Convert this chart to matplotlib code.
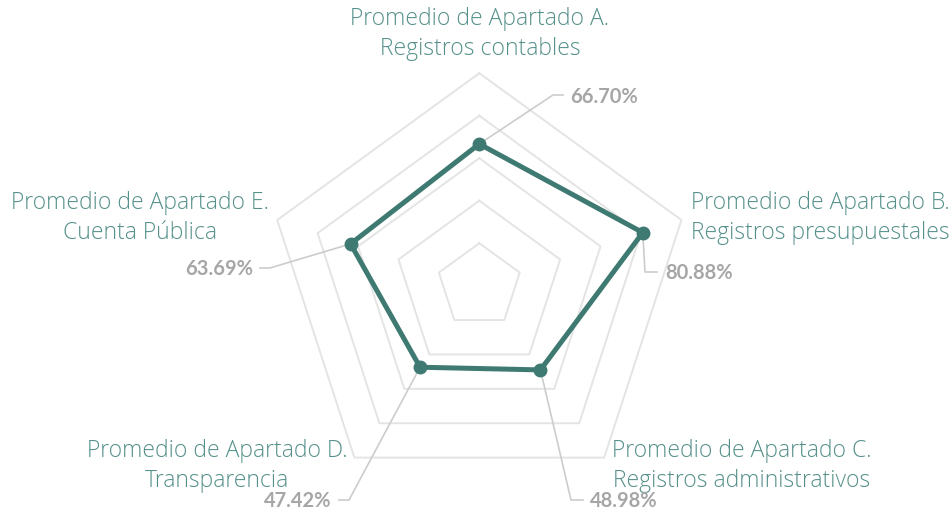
import matplotlib

matplotlib.use("Agg")
import matplotlib.pyplot as plt
import numpy as np

categories = [
    "Promedio de Apartado A.\nRegistros contables",
    "Promedio de Apartado B.\nRegistros presupuestales",
    "Promedio de Apartado C.\nRegistros administrativos",
    "Promedio de Apartado D.\nTransparencia",
    "Promedio de Apartado E.\nCuenta Pública",
]
values = [66.70, 80.88, 48.98, 47.42, 63.69]
rings = [20, 40, 60, 80, 100]

LINE = "#3f7a72"
LABEL = "#55908a"
VALUE = "#a6a6a6"
GRID = "#e4e4e4"
LEADER = "#cccccc"

W, H = 953, 514
CX, CY, SCALE = 479.3, 285.7, 2.125   # centre in pixels, px per percent

plt.rcParams["font.family"] = ["Open Sans", "DejaVu Sans"]

fig = plt.figure(figsize=(W / 100, H / 100), dpi=100)
ax = fig.add_axes([0, 0, 1, 1])
ax.set_xlim(-CX / SCALE, (W - CX) / SCALE)
ax.set_ylim(-(H - CY) / SCALE, CY / SCALE)
ax.set_aspect("equal")
ax.axis("off")


def px(x, y):
    """reference-pixel position (top-left origin) -> data coords"""
    return (x - CX) / SCALE, (CY - y) / SCALE


theta = np.pi / 2 - np.arange(len(values)) * 2 * np.pi / len(values)
ct = np.append(np.cos(theta), np.cos(theta[0]))
st = np.append(np.sin(theta), np.sin(theta[0]))

for r in rings:
    ax.plot(r * ct, r * st, color=GRID, lw=1.4, zorder=1)

v = np.append(values, values[0])
xs, ys = v * ct, v * st
ax.plot(xs, ys, color=LINE, lw=3.6, solid_joinstyle="round", zorder=3)
ax.plot(xs[:-1], ys[:-1], "o", color=LINE, ms=9, zorder=4)

# category labels (centre x, centre y in pixels)
label_pos = [(480, 34), (820, 218), (742, 466), (217, 466), (140, 218)]
for text, (lx, ly) in zip(categories, label_pos):
    ax.text(*px(lx, ly), text, ha="center", va="center", fontsize=16.5,
            color=LABEL, fontweight="light", linespacing=1.3)

# value labels with elbow leaders: elbow, end of leader, text anchor
leaders = [
    ((553, 95), (563, 95), (570, 97), "left"),
    ((645, 272), (657, 272), (665, 273), "left"),
    ((571, 500), (583, 500), (590, 501), "left"),
    ((349, 500), (339, 500), (331, 501), "right"),
    ((270, 268), (260, 268), (253, 269), "right"),
]
for i, (elb, end, tpos, ha) in enumerate(leaders):
    ex, ey = px(*elb)
    nx, ny = px(*end)
    ax.plot([xs[i], ex, nx], [ys[i], ey, ny], color=LEADER, lw=1.2, zorder=2)
    ax.text(*px(*tpos), f"{values[i]:.2f}%", ha=ha, va="center",
            fontsize=14.5, color=VALUE, fontweight="bold",
            family=["Lato", "DejaVu Sans"])

fig.savefig("out.png", dpi=100)
